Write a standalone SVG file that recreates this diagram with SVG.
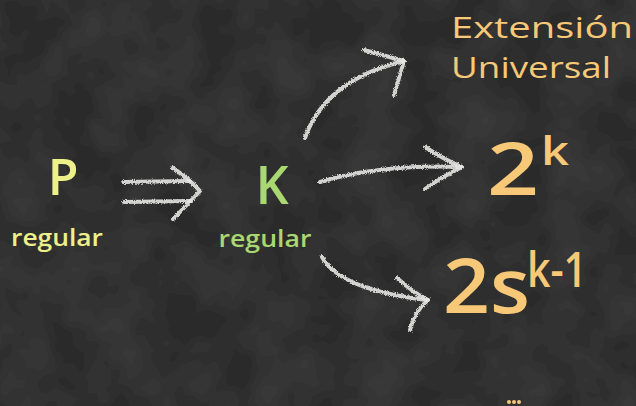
<svg xmlns="http://www.w3.org/2000/svg" width="636" height="406" viewBox="0 0 636 406">
  <defs>
    <filter id="board" x="0" y="0" width="100%" height="100%">
      <feTurbulence type="fractalNoise" baseFrequency="0.02" numOctaves="3" seed="4" result="n"/>
      <feColorMatrix in="n" type="matrix" values="0 0 0 0 0.22  0 0 0 0 0.22  0 0 0 0 0.22  0 0 0 0.16 -0.05" result="haze"/>
      <feComposite in="haze" in2="SourceGraphic" operator="over"/>
    </filter>
    <filter id="chalk" x="-10%" y="-10%" width="120%" height="120%">
      <feTurbulence type="fractalNoise" baseFrequency="1.1" numOctaves="2" seed="7" result="t"/>
      <feDisplacementMap in="SourceGraphic" in2="t" scale="4" xChannelSelector="R" yChannelSelector="G"/>
    </filter>
    <style>
      .arrow { fill: none; stroke: #e6e6e4; stroke-width: 4; stroke-linecap: round; stroke-linejoin: round; opacity: 0.9; }
      .txt { font-family: "Open Sans", "Liberation Sans", sans-serif; font-weight: 600; }
      .thin { font-weight: 400; }
      .p { fill: #eef08a; }
      .k { fill: #a9d771; }
      .o { fill: #f7c877; }
    </style>
  </defs>

  <!-- chalkboard -->
  <rect width="636" height="406" fill="#2b2b2b" filter="url(#board)"/>

  <!-- source set P -->
  <g id="node-p" class="txt p">
    <text x="63" y="195" font-size="50" text-anchor="middle">P</text>
    <text x="57" y="246" font-size="24" text-anchor="middle" textLength="92" lengthAdjust="spacingAndGlyphs">regular</text>
  </g>

  <!-- set K -->
  <g id="node-k" class="txt k">
    <text x="272" y="204" font-size="52" text-anchor="middle">K</text>
    <text x="265" y="247" font-size="24" text-anchor="middle" textLength="93" lengthAdjust="spacingAndGlyphs">regular</text>
  </g>

  <!-- outcomes -->
  <g id="node-ext" class="txt thin o">
    <text x="451" y="38" font-size="30" textLength="182" lengthAdjust="spacingAndGlyphs">Extensión</text>
    <text x="451" y="78" font-size="30" textLength="160" lengthAdjust="spacingAndGlyphs">Universal</text>
  </g>
  <g id="node-2k" class="txt o">
    <text x="487" y="195" font-size="72" textLength="52" lengthAdjust="spacingAndGlyphs">2</text>
    <text x="541" y="165" font-size="40" textLength="28" lengthAdjust="spacingAndGlyphs">k</text>
  </g>
  <g id="node-2sk" class="txt o">
    <text x="443" y="313" font-size="76" textLength="87" lengthAdjust="spacingAndGlyphs">2s</text>
    <text x="527" y="287" font-size="48" textLength="60" lengthAdjust="spacingAndGlyphs">k-1</text>
  </g>
  <g id="node-more" class="o">
    <circle cx="509" cy="402" r="2"/>
    <circle cx="514" cy="402" r="2"/>
    <circle cx="519" cy="402" r="2"/>
  </g>

  <!-- chalk connectors -->
  <g id="connectors" filter="url(#chalk)">
    <!-- P implies K -->
    <path class="arrow" d="M123 182 L190 181"/>
    <path class="arrow" d="M124 202 L190 201"/>
    <path class="arrow" d="M173 168 Q190 180 200 191 Q188 204 173 219"/>
    <!-- K to universal extension -->
    <path class="arrow" d="M305 138 Q325 80 404 61"/>
    <path class="arrow" d="M364 50 L404 61 L394 95"/>
    <!-- K to 2^k -->
    <path class="arrow" d="M320 182 Q380 164 462 167"/>
    <path class="arrow" d="M425 147 Q445 160 462 167 Q440 178 425 189"/>
    <!-- K to 2s^(k-1) -->
    <path class="arrow" d="M322 257 Q340 290 428 300"/>
    <path class="arrow" d="M397 278 Q415 294 428 300 Q414 312 410 330"/>
  </g>
</svg>
